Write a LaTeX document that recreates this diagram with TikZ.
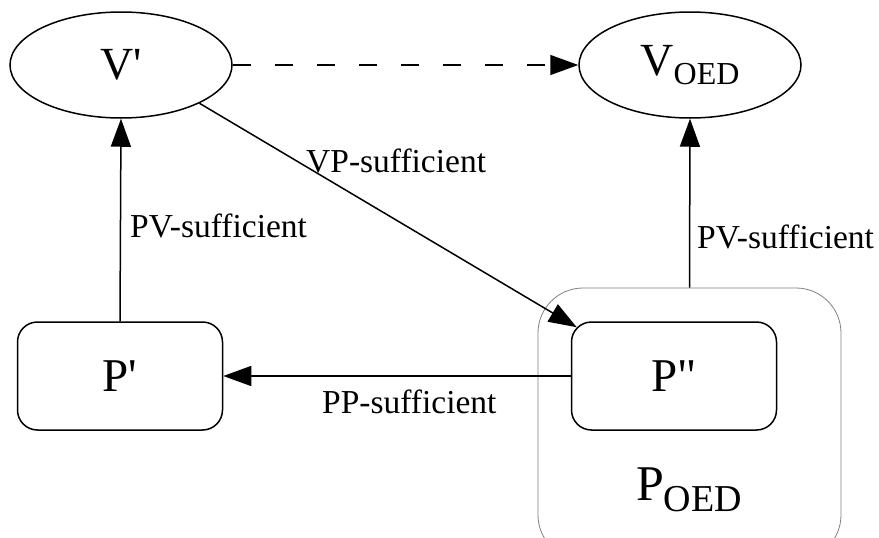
\documentclass[tikz,border=0pt]{standalone}
\usepackage{fontspec}
\setmainfont[Ligatures={TeXOff,NoCommon}]{Liberation Serif}
\usetikzlibrary{arrows.meta,calc,shapes.geometric}
\newcommand{\mysub}[2]{\raisebox{-#2}{\fontsize{#1}{#1}\selectfont OED}}
\begin{document}
\begin{tikzpicture}[x=1pt,y=-1pt,
  ell/.style={draw, line width=1.5pt, ellipse, minimum width=222pt, minimum height=106pt, inner sep=0pt, font=\fontsize{46}{46}\selectfont},
  pbox/.style={draw, line width=1.5pt, rounded corners=20pt, minimum width=205pt, minimum height=108pt, inner sep=0pt, font=\fontsize{47}{47}\selectfont},
  arr/.style={line width=1.5pt, -{Triangle[length=28pt,width=20pt]}},
  lab/.style={font=\fontsize{33.5}{33.5}\selectfont, inner sep=0pt, anchor=base west},
  group/.style={draw=black!50, line width=0.8pt, rounded corners=45pt, minimum width=303pt, minimum height=272pt, inner sep=0pt}
]
\useasboundingbox (0,0) rectangle (879,538);
\node[group] (poed) at (689.5,424) {};
\node[ell] (vp) at (121,65) {V'};
\node[ell] (voed) at (690,65) {V\mysub{32}{9pt}};
\node[pbox] (pp) at (120,376) {P'};
\node[pbox] (ppp) at (674,376) {P"};
\node[anchor=base, inner sep=0pt, font=\fontsize{50}{50}\selectfont] (poedlab) at (689,500) {P\mysub{38}{11pt}};

\draw[arr] (pp.north) -- (vp.south);
\draw[arr] (poed.north) -- (voed.south);
\draw[arr, dash pattern=on 18pt off 24pt] (vp.east) -- (voed.west);
\draw[arr] (vp.-26) -- ($(ppp.north west)+(6,6)$);
\draw[arr] (ppp.west) -- (pp.east);

\node[lab] (l1) at (130,237) {PV-sufficient};
\node[lab] (l2) at (306,172) {VP-sufficient};
\node[lab] (l3) at (697,248) {PV-sufficient};
\node[lab] (l4) at (322,413) {PP-sufficient};
\end{tikzpicture}
\end{document}
